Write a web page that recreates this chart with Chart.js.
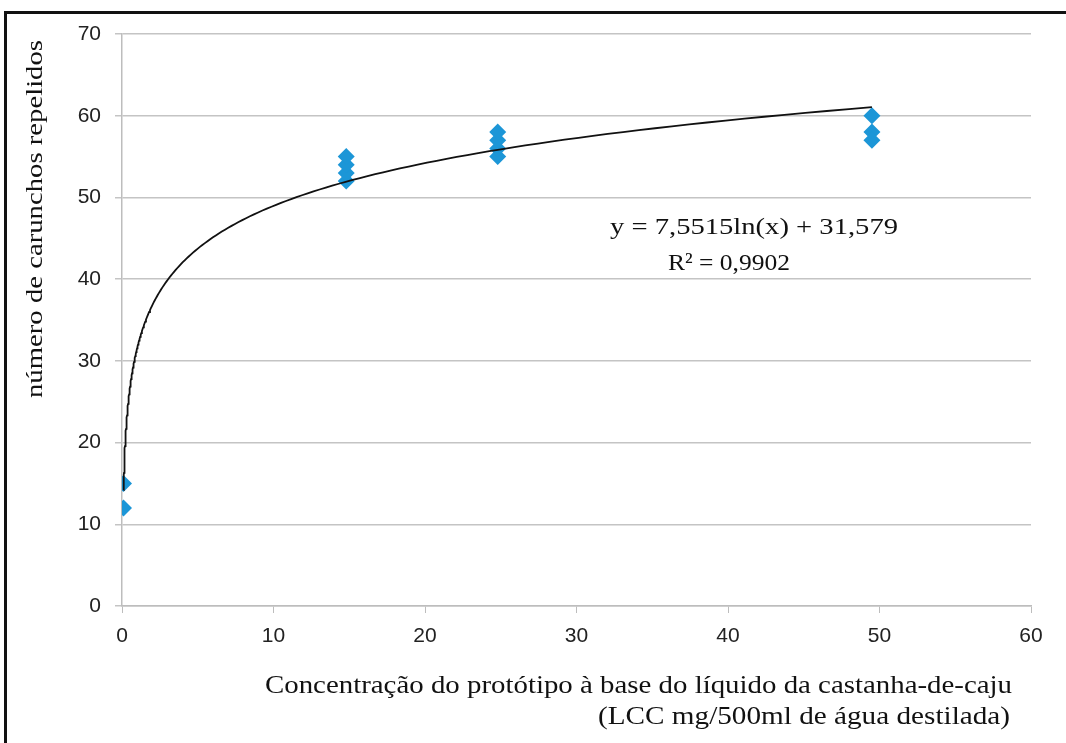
<!DOCTYPE html>
<html>
<head>
<meta charset="utf-8">
<script src="https://cdn.jsdelivr.net/npm/chart.js@4.4.1/dist/chart.umd.min.js"></script>
<style>
  body { margin: 0; background: #fff; }
  #moldura { position: absolute; left: 4px; top: 11px; width: 1100px; height: 800px;
             border-left: 3px solid #111; border-top: 3px solid #111; }
  #grafico { position: absolute; left: 0; top: 0; }
</style>
</head>
<body>
<div id="moldura"></div>
<canvas id="grafico" width="1066" height="743"></canvas>
<script>
// concentrações (eixo x) e número de carunchos repelidos (eixo y)
const concentracoes = [0.1, 0.1, 14.8, 14.8, 14.8, 14.8, 24.8, 24.8, 24.8, 24.8, 49.5, 49.5, 49.5];
const repelidos = [15, 12, 52, 53, 54, 55, 55, 56, 57, 58, 60, 58, 57];

// linha de tendência logarítmica mostrada no gráfico
const coefA = 7.5515;
const coefB = 31.579;
const xInicio = 0.1;
const xFim = 49.5;

const ticksY = [0, 10, 20, 30, 40, 50, 60, 70];
const ticksX = [0, 10, 20, 30, 40, 50, 60];

const tituloY = 'número de carunchos repelidos';
const tituloX1 = 'Concentração do protótipo à base do líquido da castanha-de-caju';
const tituloX2 = '(LCC mg/500ml de água destilada)';
const equacao = 'y = 7,5515ln(x) + 31,579';
const r2 = 'R² = 0,9902';

function pontosTendencia() {
    const pts = [];
    const n = 200;
    for (let i = 0; i <= n; i++) {
        // espaçamento logarítmico para a parte íngreme perto de zero
        const x = xInicio * Math.pow(xFim / xInicio, i / n);
        pts.push({ x: x, y: coefA * Math.log(x) + coefB });
    }
    return pts;
}

const pontos = concentracoes.map((x, i) => ({ x: x, y: repelidos[i] }));

// escreve o texto esticado para ocupar a largura medida no original
function escrever(ctx, texto, x, y, largura, tamanho, alinhar) {
    ctx.save();
    ctx.font = tamanho + 'px "Liberation Serif", "Times New Roman", serif';
    const w = ctx.measureText(texto).width;
    const s = largura / w;
    let x0 = x;
    if (alinhar === 'center') x0 = x - largura / 2;
    if (alinhar === 'right') x0 = x - largura;
    ctx.translate(x0, y);
    ctx.scale(s, 1);
    ctx.textAlign = 'left';
    ctx.textBaseline = 'middle';
    ctx.fillStyle = '#111';
    ctx.fillText(texto, 0, 0);
    ctx.restore();
}

const textos = {
    id: 'textos',
    afterDraw(chart) {
        const ctx = chart.ctx;
        // título do eixo y, rodado
        ctx.save();
        ctx.translate(36, 219);
        ctx.rotate(-Math.PI / 2);
        escrever(ctx, tituloY, 0, 0, 358, 24, 'center');
        ctx.restore();
        // título do eixo x em duas linhas, alinhado à direita
        escrever(ctx, tituloX1, 1012, 686, 747, 25, 'right');
        escrever(ctx, tituloX2, 1010, 717, 412, 25, 'right');
        // equação e R²
        escrever(ctx, equacao, 754, 228, 288, 24, 'center');
        escrever(ctx, r2, 729, 264, 122, 24, 'center');
    }
};

new Chart(document.getElementById('grafico').getContext('2d'), {
    type: 'scatter',
    data: {
        datasets: [
            {
                label: 'Tendência',
                type: 'line',
                data: pontosTendencia(),
                borderColor: '#111',
                borderWidth: 1.8,
                pointRadius: 0,
                fill: false,
                tension: 0
            },
            {
                label: 'Repelidos',
                data: pontos,
                pointStyle: 'rectRot',
                pointRadius: 8.5,
                pointHoverRadius: 8.5,
                backgroundColor: '#1c96d7',
                borderColor: '#1c96d7',
                borderWidth: 0
            }
        ]
    },
    options: {
        responsive: false,
        animation: false,
        events: [],
        layout: { padding: { top: 34, right: 35, left: 0, bottom: 0 } },
        plugins: { legend: { display: false }, tooltip: { enabled: false } },
        scales: {
            x: {
                type: 'linear',
                min: 0, max: 60,
                afterFit(scale) { scale.height = 743 - 606; },
                afterBuildTicks(scale) { scale.ticks = ticksX.map(v => ({ value: v })); },
                grid: { drawOnChartArea: false, color: '#bdbdbd', tickLength: 7 },
                border: { color: '#bdbdbd', width: 1.5 },
                ticks: {
                    color: '#222',
                    padding: 11,
                    font: { family: '"Liberation Sans Narrow", "Liberation Sans", Arial', size: 21 }
                }
            },
            y: {
                min: 0, max: 70,
                afterFit(scale) { scale.width = 122; },
                afterBuildTicks(scale) { scale.ticks = ticksY.map(v => ({ value: v })); },
                grid: { color: '#c4c4c4', lineWidth: 1.5, tickLength: 7 },
                border: { color: '#bdbdbd', width: 1.5 },
                ticks: {
                    color: '#222',
                    padding: 14,
                    font: { family: '"Liberation Sans Narrow", "Liberation Sans", Arial', size: 21 }
                }
            }
        }
    },
    plugins: [textos]
});
</script>
</body>
</html>
